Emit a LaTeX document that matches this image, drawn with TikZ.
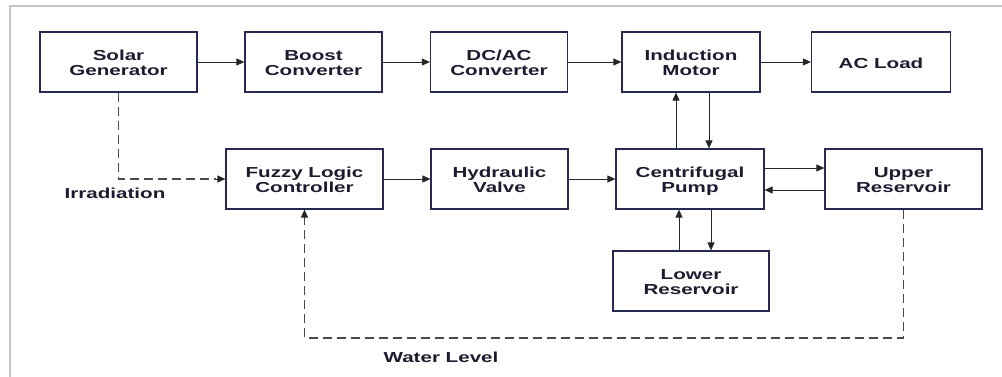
\documentclass[tikz,border=0pt]{standalone}
\usepackage{fontspec}
\setmainfont{Liberation Sans}
\usepackage{graphicx}
\usepackage{tikz}
\usetikzlibrary{
    positioning,
    arrows.meta,
    calc,
}
\definecolor{boxline}{HTML}{262A52}
\definecolor{boxtext}{HTML}{1C1C30}
\definecolor{dashline}{HTML}{4A4A4A}
\definecolor{framegray}{HTML}{C4C4C4}

\newcommand{\widetxt}[1]{\raisebox{-3pt}[\height][\depth]{%
    \scalebox{1.42}[1]{\begin{tabular}{@{}c@{}}#1\end{tabular}}}}

\tikzset{
    blockbox/.style={draw=boxline,line width=1.2pt,minimum height=60pt,
                     align=center,text=boxtext,inner sep=0pt,
                     font=\fontsize{14.5}{15.7}\selectfont\bfseries},
    arr/.style={-{Triangle[length=8pt,width=7pt]},line width=0.9pt,draw=black!85},
    dasharr/.style={line width=1.2pt,draw=dashline,dash pattern=on 9pt off 5pt},
    lbl/.style={text=boxtext,inner sep=0pt,
                font=\fontsize{14.5}{15.7}\selectfont\bfseries},
}

\begin{document}
\begin{tikzpicture}[x=1pt,y=-1pt]
                        \useasboundingbox (0,0) rectangle (1002,377);
                        %
                            % Cornice
                        \draw[framegray,line width=1.5pt] (10,377) -- (10,6) -- (1002,6);
                        %
                        %
                            % Prima riga
                        \node[blockbox,minimum width=157pt] (solar) at (118.5,62) {\widetxt{Solar\\Generator}};
                        \node[blockbox,minimum width=137pt] (boost) at (313.5,62) {\widetxt{Boost\\Converter}};
                        \node[blockbox,minimum width=137pt] (dcac)  at (499,62)   {\widetxt{DC/AC\\Converter}};
                        \node[blockbox,minimum width=138pt] (motor) at (691,62)   {\widetxt{Induction\\Motor}};
                        \node[blockbox,minimum width=139pt] (load)  at (881,62)   {\widetxt{AC Load}};
                        %
                            % Seconda riga
                        \node[blockbox,minimum width=157pt] (flc)   at (304.5,179) {\widetxt{Fuzzy Logic\\Controller}};
                        \node[blockbox,minimum width=137pt] (valve) at (499.5,179) {\widetxt{Hydraulic\\Valve}};
                        \node[blockbox,minimum width=148pt] (pump)  at (690,179)   {\widetxt{Centrifugal\\Pump}};
                        \node[blockbox,minimum width=157pt] (upper) at (903.5,179) {\widetxt{Upper\\Reservoir}};
                        %
                            % Serbatoio inferiore
                        \node[blockbox,minimum width=156pt] (lower) at (691,281) {\widetxt{Lower\\Reservoir}};
                        %
                        %
                            % Catena di potenza
                        \draw[arr] (solar) -- (boost);
                        \draw[arr] (boost) -- (dcac);
                        \draw[arr] (dcac) -- (motor);
                        \draw[arr] (motor) -- (load);
                        %
                            % Catena idraulica
                        \draw[arr] (flc) -- (valve);
                        \draw[arr] (valve) -- (pump);
                        %
                            % Motore - pompa
                        \draw[arr] ([xshift=-14pt]pump.north) -- ([xshift=-14pt]pump.north |- motor.south);
                        \draw[arr] ([xshift=18pt]motor.south) -- ([xshift=18pt]motor.south |- pump.north);
                        %
                            % Pompa - serbatoi
                        \draw[arr] ([yshift=11pt]pump.east) -- ([yshift=11pt]pump.east -| upper.west);
                        \draw[arr] ([yshift=-11pt]upper.west) -- ([yshift=-11pt]upper.west -| pump.east);
                        \draw[arr] ([xshift=-11pt]pump.south |- lower.north) -- ([xshift=-11pt]pump.south);
                        \draw[arr] ([xshift=21pt]pump.south) -- ([xshift=21pt]pump.south |- lower.north);
                        %
                        %
                            % Irraggiamento
                        \draw[dasharr] (solar.south) -- (solar.south |- flc.west) -- ([xshift=-9pt]flc.west);
                        \draw[arr] ([xshift=-9pt]flc.west) -- (flc.west);
                        \node[lbl] (irr) at (115,192.7) {\widetxt{Irradiation}};
                        %
                            % Livello dell'acqua
                        \coordinate (wlbase) at (0,338);
                        \draw[dasharr] (upper.south) -- (upper.south |- wlbase)
                            -- (flc.south |- wlbase) -- ([yshift=-9pt]flc.south);
                        \draw[arr] ([yshift=-9pt]flc.south) -- (flc.south);
                        \node[lbl] (wl) at (441,356.5) {\widetxt{Water Level}};
                    \end{tikzpicture}
\end{document}
